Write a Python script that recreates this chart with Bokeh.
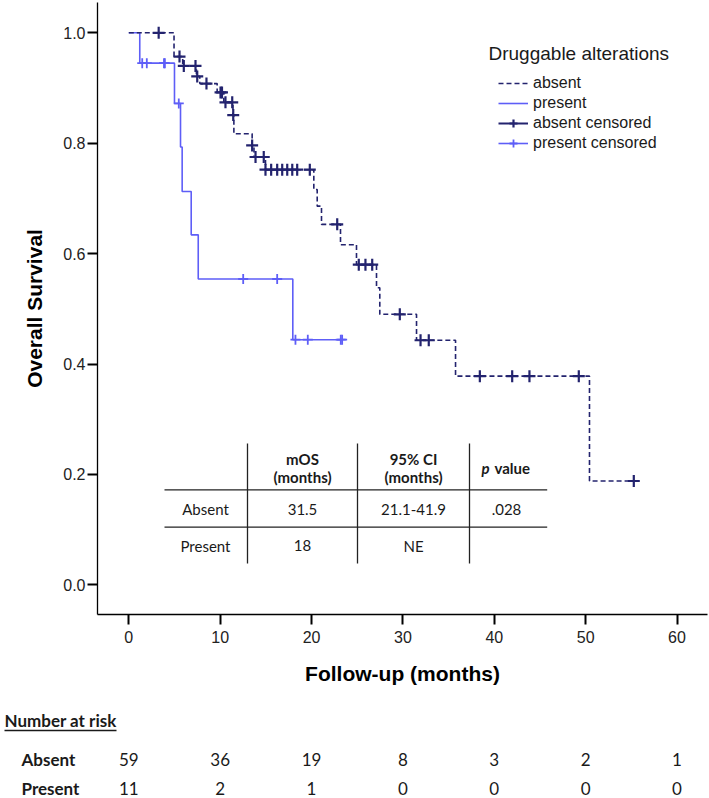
import numpy as np
from bokeh.plotting import figure
from bokeh.models import Range1d, Legend, LegendItem, FixedTicker, NumeralTickFormatter
from bokeh.embed import file_html
from bokeh.resources import INLINE
from bokeh.core.properties import value

# ---------------- data ----------------
absent_event_times = [0, 4.95, 5.9, 7.4, 7.77, 9.67, 10.4, 11.4, 11.5, 13.5, 13.7, 14.96,
                      20.25, 20.62, 21.09, 23.17, 24.92, 27.11, 27.47, 31.49, 35.76, 50.42]
absent_survival = [1.0, 0.957, 0.94, 0.921, 0.908, 0.892, 0.874, 0.851, 0.817, 0.796, 0.775, 0.752,
                   0.716, 0.686, 0.653, 0.616, 0.580, 0.538, 0.490, 0.443, 0.378, 0.188]
absent_censor_times = [3.27, 5.55, 6.02, 7.3, 7.49, 8.5, 10.04, 10.2, 10.58, 11.32, 11.43, 13.5,
                       13.87, 14.77, 14.96, 15.58, 16.24, 16.79, 17.34, 17.89, 18.43, 19.81, 22.81,
                       25.17, 25.9, 26.64, 29.66, 31.93, 32.83, 38.42, 41.96, 43.85, 49.25, 55.27]

present_event_times = [0, 1.2, 5.0, 5.66, 5.84, 6.83, 7.6, 17.95]
present_survival = [1.0, 0.945, 0.872, 0.793, 0.7125, 0.634, 0.554, 0.444]
present_censor_times = [1.47, 1.97, 3.85, 3.95, 5.47, 12.52, 16.24, 18.24, 19.59, 23.2, 23.35]

risk_times = [0, 10, 20, 30, 40, 50, 60]
risk_absent = [59, 36, 19, 8, 3, 2, 1]
risk_present = [11, 2, 1, 0, 0, 0, 0]

x_ticks = [0, 10, 20, 30, 40, 50, 60]
y_ticks = [0.0, 0.2, 0.4, 0.6, 0.8, 1.0]

table_groups = ["Absent", "Present"]
table_mos = ["31.5", "18"]
table_ci = ["21.1-41.9", "NE"]
table_p = [".028", ""]
table_head1 = ["mOS", "95% CI"]
table_head2 = ["(months)", "(months)"]

legend_title = "Druggable alterations"
group_labels = ["absent", "present"]
risk_title = "Number at risk"

# ---------------- style / layout (pixel positions on the 709x798 canvas) ----------------
NAVY = "#23236e"
BLUE = "#5e5ef7"
TXT = "#1a1a1a"
ARIAL = "Liberation Sans"
CAL = "Lato"

W, H = 709, 798
AX_LEFT, AX_RIGHT, AX_TOP, AX_BOTTOM = 97, 707, 2, 614.3
X_ZERO_PX = 128.3
Y_ZERO_PX = 584.3
PX_PER_MONTH = 9.137
PX_PER_UNIT = 552.0


def mx(px):
    return (px - X_ZERO_PX) / PX_PER_MONTH


def sy(py):
    return (Y_ZERO_PX - py) / PX_PER_UNIT


def km_step(times, surv, end_time):
    return list(times) + [end_time], list(surv) + [surv[-1]]


def surv_at(times, surv, ts):
    idx = np.searchsorted(np.asarray(times), np.asarray(ts), side="right") - 1
    return [surv[i] for i in idx]


p = figure(width=W, height=H, x_range=Range1d(mx(0), mx(W)), y_range=Range1d(sy(H), sy(0)),
           output_backend="svg", toolbar_location=None,
           min_border_left=0, min_border_right=0, min_border_top=0, min_border_bottom=0)
p.outline_line_color = None
p.grid.visible = False

for ax in (p.xaxis[0], p.yaxis[0]):
    ax.axis_line_color = "black"
    ax.axis_line_width = 1.3
    ax.major_tick_line_color = "black"
    ax.major_tick_line_width = 2
    ax.major_tick_out = 10
    ax.major_tick_in = 0
    ax.minor_tick_line_color = None
    ax.major_label_text_font = ARIAL
    ax.major_label_text_font_size = "16px"
    ax.major_label_text_color = "#222222"
    ax.axis_label_text_font = ARIAL
    ax.axis_label_text_font_style = "bold"
    ax.axis_label_text_font_size = "21px"
    ax.axis_label_text_color = "black"

p.xaxis.ticker = FixedTicker(ticks=x_ticks)
p.yaxis.ticker = FixedTicker(ticks=y_ticks)
p.yaxis.formatter = NumeralTickFormatter(format="0.0")
p.xaxis.axis_label = "Follow-up (months)"
p.yaxis.axis_label = "Overall Survival"
p.yaxis.major_label_standoff = 2
p.xaxis.major_label_standoff = 6
p.yaxis.axis_label_standoff = 14
p.xaxis.axis_label_standoff = 16
p.yaxis.fixed_location = mx(AX_LEFT)
p.yaxis.bounds = (sy(AX_BOTTOM), sy(AX_TOP))
p.xaxis.fixed_location = sy(AX_BOTTOM)
p.xaxis.bounds = (mx(AX_LEFT), mx(AX_RIGHT))

# curves
ax_, ay_ = km_step(absent_event_times, absent_survival, absent_censor_times[-1])
px_, py_ = km_step(present_event_times, present_survival, present_censor_times[-1])
r_pre = p.step(px_, py_, mode="after", line_color=BLUE, line_width=1.6)
r_abs = p.step(ax_, ay_, mode="after", line_color=NAVY, line_width=1.6, line_dash="5 3")

r_pre_c = p.scatter(present_censor_times,
                    surv_at(present_event_times, present_survival, present_censor_times),
                    marker="cross", size=10, line_color=BLUE, line_width=1.8)
r_abs_c = p.scatter(absent_censor_times,
                    surv_at(absent_event_times, absent_survival, absent_censor_times),
                    marker="cross", size=12, line_color=NAVY, line_width=2.2)

r_abs_leg = p.line([0], [float("nan")], line_color=NAVY, line_width=2)
r_pre_leg = p.line([0], [float("nan")], line_color=BLUE, line_width=1.6)

legend = Legend(items=[
    LegendItem(label=group_labels[0], renderers=[r_abs]),
    LegendItem(label=group_labels[1], renderers=[r_pre]),
    LegendItem(label=group_labels[0] + " censored", renderers=[r_abs_leg, r_abs_c]),
    LegendItem(label=group_labels[1] + " censored", renderers=[r_pre_leg, r_pre_c]),
], location=(498, H - 153), padding=0, spacing=0, margin=0,
    glyph_width=30, glyph_height=20, label_height=20, label_standoff=5,
    label_text_font=ARIAL, label_text_font_size="16px", label_text_color=TXT,
    border_line_color=None, background_fill_alpha=0)
p.add_layout(legend)

p.text(x=[mx(488)], y=[sy(53)], text=[legend_title], text_font=value(ARIAL),
       text_font_size="19px", text_color=TXT, text_align="left", text_baseline="middle")

# ---------------- table ----------------
col_bounds = [mx(247), mx(357), mx(469)]
col_centers = [mx(205), mx(302), mx(413), mx(506)]
row_lines = [sy(489.3), sy(526.7)]
tbl_left, tbl_right = mx(164), mx(546.7)
tbl_top, tbl_bottom = sy(443), sy(563)
head_y1, head_y2, head_mid = sy(458), sy(476), sy(467)
row_y = [sy(508.5), sy(545)]

p.segment(x0=col_bounds, y0=[tbl_top] * 3, x1=col_bounds, y1=[tbl_bottom] * 3,
          line_color="#222222", line_width=1.3)
p.segment(x0=[tbl_left] * 2, y0=row_lines, x1=[tbl_right] * 2, y1=row_lines,
          line_color="#222222", line_width=1.3)

tfont = dict(text_font=value(CAL), text_font_size="15px", text_color=TXT,
             text_align="center", text_baseline="middle")
p.text(x=col_centers[1:3], y=[head_y1] * 2, text=table_head1, text_font_style="bold", **tfont)
p.text(x=col_centers[1:3], y=[head_y2] * 2, text=table_head2, text_font_style="bold", **tfont)
p.text(x=[col_centers[0]] * 2, y=row_y, text=table_groups, **tfont)
p.text(x=[col_centers[1]] * 2, y=row_y, text=table_mos, **tfont)
p.text(x=[col_centers[2]] * 2, y=row_y, text=table_ci, **tfont)
p.text(x=[col_centers[3]] * 2, y=row_y, text=table_p, **tfont)
pv = dict(tfont)
pv["text_align"] = "left"
p.text(x=[col_centers[3]], y=[head_mid], text=["p"], text_font_style="bold italic",
       x_offset=-25, **pv)
p.text(x=[col_centers[3]], y=[head_mid], text=["value"], text_font_style="bold",
       x_offset=-12, **pv)

# ---------------- number at risk ----------------
RISK_TITLE_Y, RISK_LINE_Y, RISK_ROW_Y = 720, 730, [759, 788]
rfont = dict(text_font=value(CAL), text_font_size="17px", text_color=TXT,
             text_baseline="middle")
p.text(x=[mx(4)], y=[sy(RISK_TITLE_Y)], text=[risk_title], text_font_style="bold",
       text_align="left", **rfont)
p.segment(x0=[mx(4)], y0=[sy(RISK_LINE_Y)], x1=[mx(116)], y1=[sy(RISK_LINE_Y)],
          line_color=TXT, line_width=1.5)
p.text(x=[mx(21)] * 2, y=[sy(v) for v in RISK_ROW_Y], text=table_groups,
       text_font_style="bold", text_align="left", **rfont)
for counts, ry in zip([risk_absent, risk_present], RISK_ROW_Y):
    p.text(x=risk_times, y=[sy(ry)] * len(risk_times), text=[str(n) for n in counts],
           text_align="center", **rfont)

open("out.html", "w").write(file_html(p, INLINE))
